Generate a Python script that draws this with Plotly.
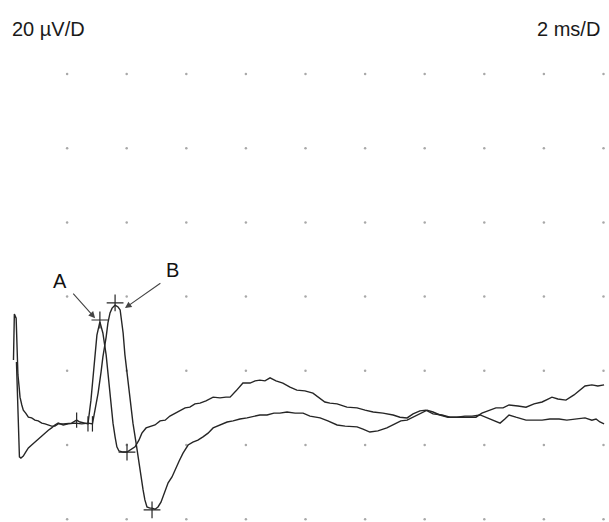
import plotly.graph_objects as go

# ---- data (time in ms, amplitude in µV) ----
trace_a_t = [0.20, 0.23, 0.29, 0.32, 0.35, 0.39, 0.42, 0.48, 0.53, 0.61, 0.70, 0.81, 0.92, 1.03, 1.15,
             1.26, 1.37, 1.48, 1.59, 1.70, 1.87, 2.04, 2.15, 2.32, 2.43, 2.60, 2.70, 2.80, 2.90, 3.00,
             3.10, 3.20, 3.31, 3.37, 3.47, 3.54, 3.61, 3.67, 3.74, 3.88, 4.01, 4.14, 4.28, 4.41, 4.51,
             4.65, 4.78, 4.95, 5.12, 5.29, 5.45, 5.62, 5.79, 5.96, 6.12, 6.29, 6.46, 6.66, 6.90, 7.13,
             7.33, 7.47, 7.67, 7.90, 8.14, 8.31, 8.47, 8.64, 8.81, 9.01, 9.24, 9.48, 9.71, 9.98, 10.25,
             10.49, 10.65, 10.82, 11.06, 11.39, 11.73, 12.00, 12.27, 12.60, 12.94, 13.17, 13.41, 13.61,
             13.84, 14.04, 14.28, 14.58, 14.85, 15.15, 15.42, 15.72, 15.92, 16.16, 16.39, 16.63, 16.83,
             17.13, 17.40, 17.67, 17.94, 18.14, 18.27, 18.47, 18.74, 19.01, 19.21, 19.38, 19.61, 19.81, 20.02]
trace_a_v = [22.9, 35.3, 34.2, 22.9, 18.9, 15.6, 12.9, 10.8, 9.4, 8.6, 7.5, 7.3, 6.7, 6.5, 5.9,
             5.7, 5.4, 5.1, 5.1, 5.7, 5.7, 5.9, 5.9, 6.7, 6.2, 5.9, 5.7, 12.1, 20.2, 29.6,
             33.2, 30.2, 24.3, 19.4, 12.1, 5.9, 2.2, -0.5, -1.6, -1.9, -1.9, -1.3, -0.5, 1.3, 3.2,
             4.6, 4.9, 5.4, 6.5, 6.7, 7.8, 8.6, 9.2, 10.0, 10.2, 11.1, 11.3, 11.9, 12.9, 12.7,
             12.9, 12.9, 14.6, 16.7, 16.7, 17.3, 17.5, 17.3, 18.1, 17.3, 16.7, 15.6, 14.8, 14.6, 14.0,
             12.7, 11.6, 11.3, 11.1, 10.2, 10.0, 9.4, 8.9, 8.6, 8.1, 7.5, 7.3, 8.4,
             9.2, 9.4, 8.4, 8.1, 7.5, 7.5, 7.5, 7.5, 8.6, 9.4, 10.0, 10.0, 10.8,
             10.5, 10.2, 11.1, 11.6, 12.4, 12.9, 12.4, 12.1, 13.5, 14.8, 15.9, 16.2, 15.9, 16.2]

trace_b_t = [0.30, 0.34, 0.37, 0.40, 0.45, 0.53, 0.61, 0.70, 0.81, 0.92, 1.03, 1.15, 1.26, 1.37, 1.48,
             1.59, 1.70, 1.87, 2.04, 2.27, 2.49, 2.71, 2.85, 2.94, 3.04, 3.14, 3.20, 3.31, 3.37, 3.44,
             3.51, 3.61, 3.71, 3.78, 3.84, 3.88, 3.94, 4.04, 4.11, 4.21, 4.31, 4.38, 4.45, 4.55, 4.61,
             4.68, 4.78, 4.85, 4.95, 5.05, 5.15, 5.22, 5.32, 5.39, 5.52, 5.62, 5.76, 5.89, 6.06, 6.22,
             6.39, 6.56, 6.73, 6.90, 7.13, 7.37, 7.57, 7.80, 8.04, 8.27, 8.47, 8.71, 8.94, 9.14, 9.38,
             9.65, 9.92, 10.15, 10.49, 10.75, 11.06, 11.33, 11.73, 11.93, 12.16, 12.43, 12.73, 13.00,
             13.20, 13.41, 13.61, 13.84, 14.08, 14.28, 14.51, 14.78, 15.08, 15.35, 15.59, 15.86, 16.12,
             16.33, 16.53, 16.69, 16.83, 17.06, 17.40, 17.67, 17.94, 18.20, 18.51, 18.77, 19.08, 19.38,
             19.61, 19.75, 19.88, 20.02]
trace_b_v = [22.4, 12.1, 1.3, -3.2, -3.5, -3.0, -1.9, -0.8, 0.0, 0.8, 1.6, 2.4, 3.2, 4.0, 4.6,
             5.4, 5.9, 5.4, 5.7, 5.9, 5.7, 5.9, 5.7, 9.4, 14.0, 19.7, 23.7, 29.1, 32.9, 35.6,
             36.9, 37.7, 37.2, 36.4, 33.2, 30.2, 24.3, 17.5, 12.1, 5.9, 0.8, -3.2, -7.3, -12.1, -14.8,
             -16.7, -17.0, -17.0, -17.3, -16.7, -15.4, -14.0, -12.1, -10.2, -8.6, -6.7, -4.3, -2.2, 0.0, 0.8,
             1.3, 2.2, 3.2, 4.6, 5.4, 6.2, 6.5, 7.0, 7.3, 7.8, 8.1, 8.1, 8.6, 8.6, 8.9,
             8.6, 8.6, 7.8, 7.3, 6.5, 5.4, 5.1, 4.9, 4.3, 3.5, 3.8, 4.6, 5.7,
             6.5, 6.7, 7.5, 8.6, 9.4, 8.9, 8.1, 7.5, 7.5, 7.8, 7.8, 8.1, 7.3,
             6.5, 5.9, 7.0, 8.1, 7.5, 6.7, 6.7, 6.7, 7.0, 7.0, 6.7, 7.0, 7.3,
             6.7, 7.0, 6.2, 5.7]

# latency cursors
onset_t = [2.32, 2.70, 2.85]
onset_v = [6.7, 5.7, 5.7]
peak_t = [3.10, 3.61, 4.01, 4.85]
peak_v = [33.7, 38.3, -1.9, -17.5]

# labels
label_text = ["A", "B"]
label_t = [1.76, 5.52]
label_v = [44.2, 47.2]
arrow_tail_t = [2.16, 5.18]
arrow_tail_v = [41.2, 43.9]
arrow_head_t = [2.94, 3.94]
arrow_head_v = [34.2, 36.9]

# grid (divisions)
grid_t = [2, 4, 6, 8, 10, 12, 14, 16, 18, 20]
grid_v = [-20, 0, 20, 40, 60, 80, 100]

scale_left = "20 µV/D"
scale_right = "2 ms/D"

ink = "#262626"
font_family = "Liberation Sans, Arial, sans-serif"
fig = go.Figure()

gx = [t for t in grid_t for _ in grid_v]
gy = [v for _ in grid_t for v in grid_v]
fig.add_trace(go.Scatter(x=gx, y=gy, mode="markers",
                         marker=dict(size=2.5, color="#a8a8a8"), hoverinfo="skip"))

fig.add_trace(go.Scatter(x=trace_a_t, y=trace_a_v, mode="lines",
                         line=dict(color=ink, width=1.4)))
fig.add_trace(go.Scatter(x=trace_b_t, y=trace_b_v, mode="lines",
                         line=dict(color=ink, width=1.4)))

fig.add_trace(go.Scatter(x=onset_t, y=onset_v, mode="markers",
                         marker=dict(symbol="line-ns", size=11, line=dict(color=ink, width=1.2))))
fig.add_trace(go.Scatter(x=peak_t, y=peak_v, mode="markers",
                         marker=dict(symbol="cross-thin", size=12, line=dict(color=ink, width=1.2))))

for txt, lt, lv, tt, tv, ht, hv in zip(label_text, label_t, label_v, arrow_tail_t, arrow_tail_v,
                                       arrow_head_t, arrow_head_v):
    fig.add_annotation(x=lt, y=lv, text=txt, showarrow=False,
                       font=dict(family=font_family, size=20, color="#111"))
    fig.add_annotation(x=ht, y=hv, ax=tt, ay=tv, axref="x", ayref="y", xref="x", yref="y",
                       text="", showarrow=True, arrowhead=2, arrowsize=1.2, arrowwidth=1.1,
                       arrowcolor="#444")

fig.add_annotation(xref="paper", yref="paper", x=10 / 609, y=1 - 29 / 522, xanchor="left",
                   yanchor="middle", text=scale_left, showarrow=False,
                   font=dict(family=font_family, size=20, color="#1a1a1a"))
fig.add_annotation(xref="paper", yref="paper", x=602 / 609, y=1 - 29 / 522, xanchor="right",
                   yanchor="middle", text=scale_right, showarrow=False,
                   font=dict(family=font_family, size=20, color="#1a1a1a"))

fig.update_xaxes(range=[-0.252, 20.185], visible=False, fixedrange=True)
fig.update_yaxes(range=[-20.75, 119.95], visible=False, fixedrange=True)
fig.update_layout(width=609, height=522, margin=dict(l=0, r=0, t=0, b=0),
                  paper_bgcolor="white", plot_bgcolor="white", showlegend=False)

fig.write_html("out.html", config={"displayModeBar": False},
               post_script="document.body.style.margin='0';document.body.style.overflow='hidden';")
